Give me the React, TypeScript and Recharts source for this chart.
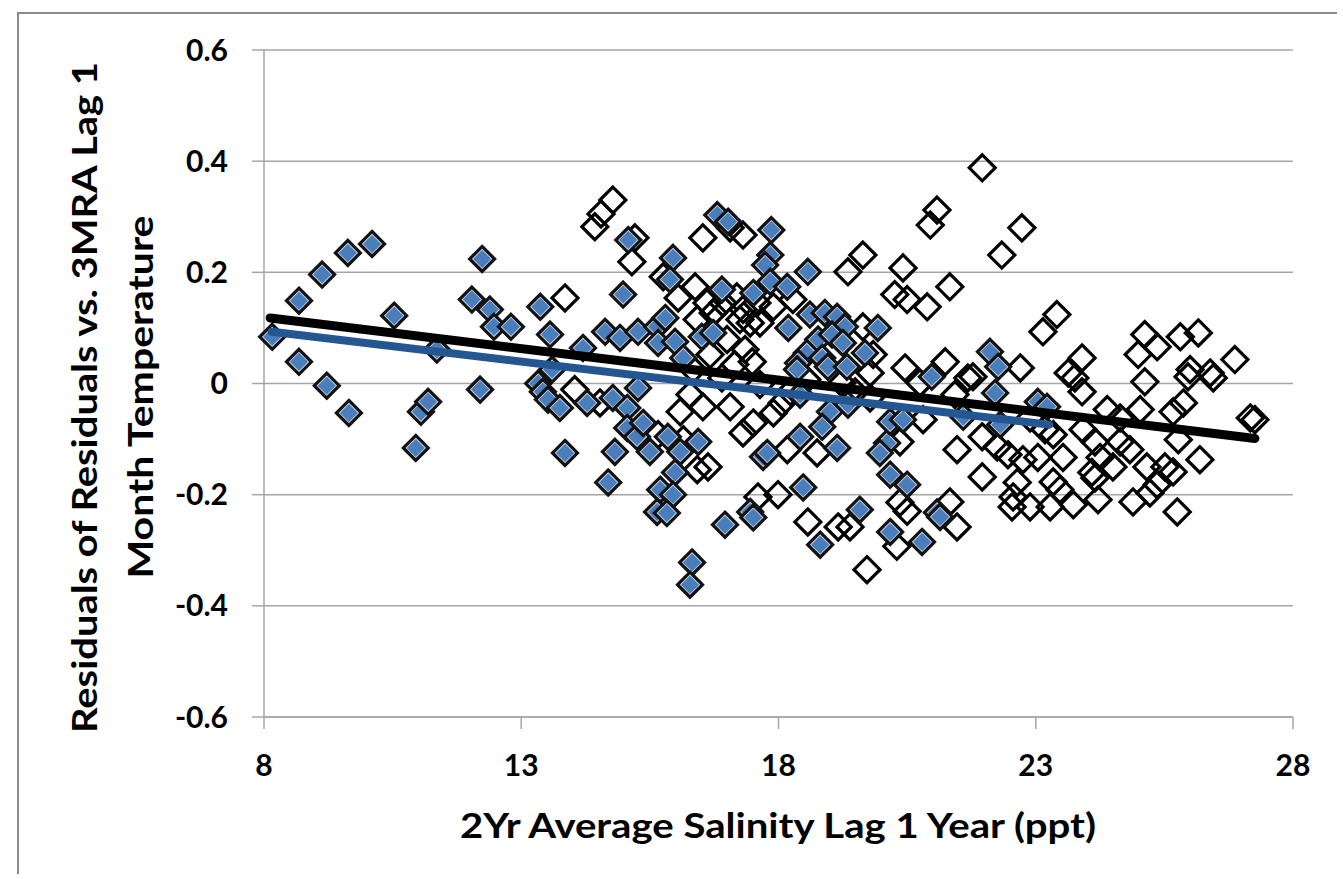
import { ScatterChart, Scatter, XAxis, YAxis, CartesianGrid } from "recharts";

// white (open) diamonds: [salinity, residual]
const openPoints: [number, number][] = [
  [21.96, 0.388], [14.43, 0.282], [14.55, 0.305], [14.78, 0.33], [15.21, 0.262],
  [15.15, 0.219], [13.85, 0.154], [16.53, 0.262], [17.06, 0.28], [17.31, 0.267],
  [15.76, 0.192], [16.05, 0.154], [16.38, 0.174], [16.61, 0.145], [16.73, 0.127],
  [16.92, 0.145], [17.19, 0.156], [17.31, 0.133], [17.45, 0.109], [17.25, 0.115],
  [17.58, 0.145], [17.0, 0.079], [17.49, 0.039], [16.42, 0.115], [14.04, -0.011],
  [14.53, -0.035], [16.09, -0.051], [16.53, -0.042], [17.06, -0.042], [17.31, -0.089],
  [16.63, -0.15], [16.42, -0.155], [16.15, -0.101], [15.66, -0.092], [17.51, -0.071],
  [17.6, -0.204], [21.08, 0.312], [20.95, 0.285], [22.73, 0.28], [22.34, 0.231],
  [19.64, 0.231], [19.35, 0.201], [20.42, 0.208], [21.33, 0.174], [20.26, 0.16],
  [20.5, 0.151], [20.89, 0.138], [18.28, 0.151], [17.9, 0.138], [17.64, 0.109],
  [19.64, 0.102], [19.84, 0.052], [21.78, 0.012], [21.47, -0.119], [21.96, -0.168],
  [19.72, -0.335], [18.57, -0.249], [19.39, -0.258], [20.36, -0.214], [20.5, -0.23],
  [20.3, -0.293], [21.47, -0.258], [21.33, -0.213], [17.99, -0.2], [17.9, -0.053],
  [18.17, -0.119], [18.75, -0.125], [18.07, -0.035], [20.36, -0.105], [20.81, -0.065],
  [21.96, -0.096], [22.46, -0.128], [22.56, -0.204], [22.54, -0.222], [22.25, -0.114],
  [19.16, -0.258], [18.55, 0.007], [19.23, 0.001], [19.78, 0.019], [21.68, 0.01],
  [23.41, 0.124], [23.14, 0.093], [22.7, 0.028], [23.9, 0.046], [23.63, 0.019],
  [25.12, 0.088], [24.99, 0.052], [25.36, 0.066], [25.81, 0.084], [26.16, 0.091],
  [26.87, 0.043], [26.0, 0.025], [26.39, 0.019], [23.76, 0.01], [23.9, -0.015],
  [25.12, 0.003], [25.96, 0.012], [26.45, 0.01], [25.87, -0.035], [25.67, -0.051],
  [27.17, -0.062], [27.26, -0.065], [24.39, -0.047], [25.03, -0.047], [23.34, -0.092],
  [24.15, -0.105], [24.64, -0.105], [25.77, -0.101], [23.04, -0.133], [23.53, -0.133],
  [24.25, -0.133], [24.83, -0.119], [22.75, -0.137], [24.09, -0.16], [24.5, -0.15],
  [25.16, -0.15], [25.51, -0.15], [25.67, -0.159], [25.36, -0.182], [22.64, -0.178],
  [23.34, -0.177], [24.15, -0.17], [24.89, -0.213], [25.22, -0.197], [25.75, -0.231],
  [22.89, -0.222], [23.28, -0.222], [23.73, -0.218], [24.21, -0.209], [23.47, -0.191],
  [16.34, 0.025], [16.67, 0.052], [16.9, 0.01], [17.15, 0.034], [17.35, 0.061],
  [17.64, -0.002], [16.28, -0.02], [18.23, -0.015], [19.49, -0.015], [19.78, -0.026],
  [20.46, 0.028], [20.75, 0.001], [21.24, 0.039], [21.43, -0.02], [22.89, -0.062],
  [23.18, -0.083], [23.92, -0.083], [24.64, -0.062], [26.19, -0.137],
];

// blue (filled) diamonds: [salinity, residual]
const bluePoints: [number, number][] = [
  [8.16, 0.084], [8.68, 0.149], [9.13, 0.196], [9.63, 0.235], [10.1, 0.251],
  [8.68, 0.039], [9.22, -0.004], [9.65, -0.053], [10.53, 0.122], [10.95, -0.116],
  [11.05, -0.051], [11.19, -0.033], [11.36, 0.061], [12.04, 0.151], [12.24, 0.224],
  [12.2, -0.011], [12.39, 0.133], [12.47, 0.102], [12.8, 0.102], [13.37, 0.138],
  [13.56, 0.088], [13.33, 0.0], [13.42, -0.015], [13.52, -0.029], [13.85, -0.125],
  [13.75, -0.044], [14.2, 0.064], [13.6, 0.025], [14.28, -0.035], [14.63, 0.093],
  [14.69, -0.178], [14.82, -0.123], [14.78, -0.026], [14.92, 0.082], [14.98, 0.16],
  [15.06, -0.044], [15.06, -0.08], [15.08, 0.258], [15.27, 0.093], [15.25, -0.096],
  [15.37, -0.071], [15.27, -0.008], [15.5, -0.123], [15.64, 0.102], [15.8, 0.118],
  [15.66, 0.073], [15.85, -0.096], [15.99, 0.075], [15.95, 0.226], [15.89, 0.187],
  [16.09, -0.123], [16.15, 0.046], [16.44, -0.105], [15.99, -0.16], [15.7, -0.191],
  [15.95, -0.2], [15.64, -0.231], [15.83, -0.233], [16.32, -0.322], [16.28, -0.362],
  [16.51, 0.084], [16.73, 0.091], [16.81, 0.303], [17.02, 0.291], [16.9, 0.169],
  [16.96, -0.254], [17.45, -0.231], [17.51, -0.241], [17.7, -0.132], [17.51, 0.163],
  [17.86, 0.276], [17.84, 0.231], [17.74, 0.213], [17.84, 0.183], [18.17, 0.174],
  [18.57, 0.201], [18.19, 0.1], [18.61, 0.124], [18.9, 0.127], [19.14, 0.12],
  [19.29, 0.102], [18.77, 0.079], [19.04, 0.088], [19.25, 0.073], [18.55, 0.055],
  [18.85, 0.046], [18.38, 0.037], [18.96, 0.03], [19.33, 0.03], [19.68, 0.055],
  [19.93, 0.1], [22.11, 0.057], [22.27, 0.03], [20.98, 0.012], [18.36, 0.025],
  [22.21, -0.017], [18.42, -0.02], [19.0, -0.051], [18.85, -0.078], [19.35, -0.038],
  [18.42, -0.096], [19.14, -0.116], [17.78, -0.125], [20.11, -0.107], [19.97, -0.125],
  [20.17, -0.069], [20.42, -0.065], [20.17, -0.164], [20.5, -0.182], [18.48, -0.187],
  [19.58, -0.227], [20.17, -0.267], [20.79, -0.285], [21.08, -0.232], [21.14, -0.24],
  [18.81, -0.29], [21.59, -0.06], [22.31, -0.074], [23.04, -0.033], [23.22, -0.042],
];

// linear trend lines (end points)
const allTrend: [number, number][] = [[8.12, 0.118], [27.26, -0.099]];
const blueTrend: [number, number][] = [[8.15, 0.093], [23.26, -0.074]];

const xTicks = [8, 13, 18, 23, 28];
const yTicks = [-0.6, -0.4, -0.2, 0, 0.2, 0.4, 0.6];

const xTitle = "2Yr Average Salinity Lag 1 Year (ppt)";
const yTitle = ["Residuals of Residuals vs. 3MRA Lag 1", "Month Temperature"];

const toXY = (arr: [number, number][]) => arr.map(([x, y]) => ({ x, y }));

const FONT = "Lato, 'Open Sans', sans-serif";
const GRID = "#a6a6a6";

const diamond = (cx: number, cy: number, r: number) =>
  `M${cx},${cy - r}L${cx + r},${cy}L${cx},${cy + r}L${cx - r},${cy}Z`;

const OpenDiamond = (props: any) => {
  const { cx, cy } = props;
  if (cx == null || cy == null) return <g />;
  return <path d={diamond(cx, cy, 13)} fill="none" stroke="#000" strokeWidth={3.2} />;
};

const BlueDiamond = (props: any) => {
  const { cx, cy } = props;
  if (cx == null || cy == null) return <g />;
  return (
    <g>
      <path d={diamond(cx, cy, 12.5)} fill="#c3d3e9" stroke="#121212" strokeWidth={3.2} />
      <path d={diamond(cx, cy, 9)} fill="#4a7ebb" />
    </g>
  );
};

const NoShape = () => <g />;

export default function App() {
  return (
    <div
      style={{
        position: "absolute",
        left: 17,
        top: 12,
        width: 1318,
        height: 860,
        borderLeft: "2px solid #8a8a8a",
        borderTop: "2px solid #8a8a8a",
        background: "#fff",
        fontFamily: FONT,
      }}
    >
      <ScatterChart width={1318} height={860} margin={{ top: 36, right: 44, bottom: 0, left: 0 }}>
        <CartesianGrid vertical={false} stroke={GRID} strokeWidth={1.5} />
        <XAxis
          type="number"
          dataKey="x"
          domain={[8, 28]}
          ticks={xTicks}
          interval={0}
          height={157}
          tickSize={12}
          tickMargin={26}
          axisLine={{ stroke: GRID, strokeWidth: 1.5 }}
          tickLine={{ stroke: GRID, strokeWidth: 1.5 }}
          tick={{ fill: "#000", fontSize: 30, fontWeight: 700, fontFamily: FONT }}
        />
        <YAxis
          type="number"
          dataKey="y"
          domain={[-0.6, 0.6]}
          ticks={yTicks}
          interval={0}
          width={245}
          tickSize={12}
          tickMargin={24}
          axisLine={{ stroke: GRID, strokeWidth: 1.5 }}
          tickLine={{ stroke: GRID, strokeWidth: 1.5 }}
          tickFormatter={(v: number) => (v === 0 ? "0" : v.toFixed(1))}
          tick={{ fill: "#000", fontSize: 30, fontWeight: 700, fontFamily: FONT }}
        />
        <Scatter data={toXY(openPoints)} shape={OpenDiamond} isAnimationActive={false} />
        <Scatter data={toXY(bluePoints)} shape={BlueDiamond} isAnimationActive={false} />
        <Scatter
          data={toXY(allTrend)}
          shape={NoShape}
          line={{ stroke: "#000", strokeWidth: 9, strokeLinecap: "round" }}
          isAnimationActive={false}
        />
        <Scatter
          data={toXY(blueTrend)}
          shape={NoShape}
          line={{ stroke: "#245792", strokeWidth: 8, strokeLinecap: "round" }}
          isAnimationActive={false}
        />
      </ScatterChart>
      <svg
        width={1318}
        height={860}
        style={{ position: "absolute", left: 0, top: 0, pointerEvents: "none" }}
      >
        <text
          x={759}
          y={824}
          textAnchor="middle"
          fontSize={35}
          fontWeight={700}
          fontFamily={FONT}
          fill="#000"
          textLength={636}
          lengthAdjust="spacingAndGlyphs"
        >
          {xTitle}
        </text>
        <text
          transform="translate(78, 383.5) rotate(-90)"
          textAnchor="middle"
          fontSize={35}
          fontWeight={700}
          fontFamily={FONT}
          fill="#000"
          textLength={671}
          lengthAdjust="spacingAndGlyphs"
        >
          {yTitle[0]}
        </text>
        <text
          transform="translate(134, 383) rotate(-90)"
          textAnchor="middle"
          fontSize={35}
          fontWeight={700}
          fontFamily={FONT}
          fill="#000"
          textLength={363}
          lengthAdjust="spacingAndGlyphs"
        >
          {yTitle[1]}
        </text>
      </svg>
    </div>
  );
}
